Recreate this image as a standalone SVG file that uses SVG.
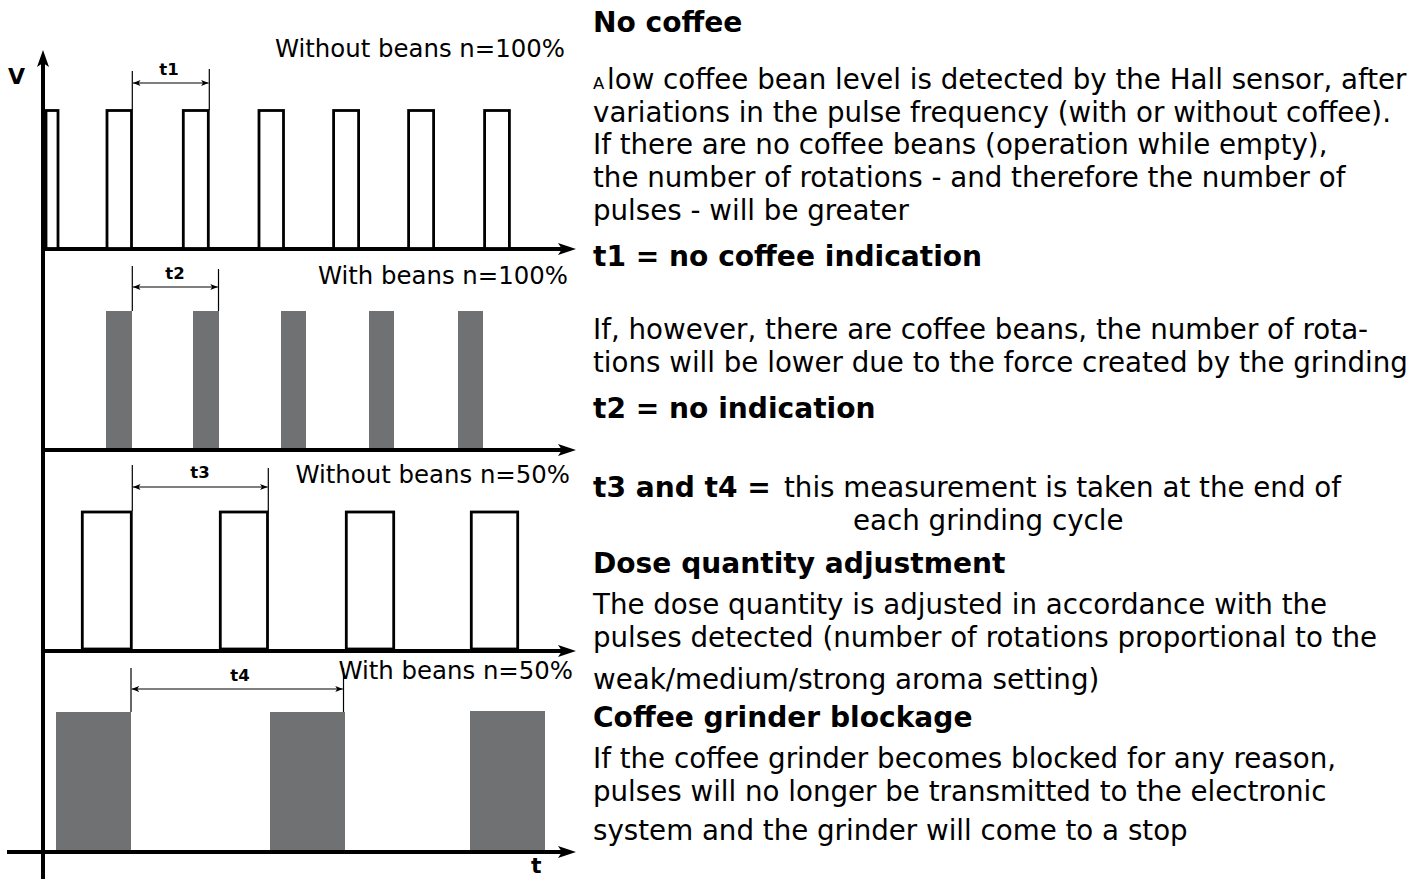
<svg xmlns="http://www.w3.org/2000/svg" width="1418" height="879" viewBox="0 0 1418 879">
<defs>
<style>
.axis{stroke:#000;stroke-width:4;fill:none}
.pulse{fill:#fff;stroke:#000;stroke-width:2.8}
.bar{fill:#707173;stroke:none}
.dim{stroke:#000;stroke-width:1.2;fill:none}
.lbl{font-family:"DejaVu Sans",Verdana,sans-serif;font-size:24.4px;fill:#000}
.tl{font-family:"DejaVu Sans",Verdana,sans-serif;font-size:16.5px;font-weight:bold;fill:#000;text-anchor:middle}
.ax{font-family:"DejaVu Sans",Verdana,sans-serif;font-size:22px;font-weight:bold;fill:#000}
.tx{font-family:"DejaVu Sans",Verdana,sans-serif;font-size:27.7px;fill:#000}
.b{font-weight:bold;font-size:28.1px}
</style>
<marker id="da" viewBox="0 0 10 8" refX="10" refY="4" markerWidth="8" markerHeight="6" markerUnits="userSpaceOnUse" orient="auto-start-reverse">
<path d="M0,0 L10,4 L0,8 L2.5,4 Z" fill="#000"/>
</marker>
</defs>

<g id="connectors">
<line class="axis" x1="43" y1="62" x2="43" y2="879"/>
<polygon points="43,50 49,67 43,63 37,67" fill="#000"/>
<line class="axis" x1="43" y1="249" x2="565" y2="249"/>
<polygon points="576,249 558,243 562,249 558,255" fill="#000"/>
<line class="axis" x1="43" y1="450" x2="565" y2="450"/>
<polygon points="576,450 558,444 562,450 558,456" fill="#000"/>
<line class="axis" x1="43" y1="651" x2="565" y2="651"/>
<polygon points="576,651 558,645 562,651 558,657" fill="#000"/>
<line class="axis" x1="7" y1="852" x2="565" y2="852"/>
<polygon points="576,852 558,846 562,852 558,858" fill="#000"/>
</g>

<g id="axis-labels">
<text class="ax" x="8" y="84">V</text>
<text class="ax" x="531" y="873">t</text>
</g>

<g id="panel1">
<rect class="pulse" x="46" y="110.5" width="12" height="138"/>
<rect class="pulse" x="107" y="110.5" width="24.5" height="138"/>
<rect class="pulse" x="183.3" y="110.5" width="25" height="138"/>
<rect class="pulse" x="259" y="110.5" width="24.5" height="138"/>
<rect class="pulse" x="333.6" y="110.5" width="25" height="138"/>
<rect class="pulse" x="408.6" y="110.5" width="25" height="138"/>
<rect class="pulse" x="484.6" y="110.5" width="24.8" height="138"/>
<line class="dim" x1="132.3" y1="71" x2="132.3" y2="110"/>
<line class="dim" x1="209.3" y1="69" x2="209.3" y2="110"/>
<line class="dim" x1="133" y1="83" x2="208.6" y2="83" marker-start="url(#da)" marker-end="url(#da)"/>
<text class="tl" x="169" y="75">t1</text>
<text class="lbl" x="565" y="57" text-anchor="end">Without beans n=100%</text>
</g>

<g id="panel2">
<rect class="bar" x="106" y="311" width="26" height="137"/>
<rect class="bar" x="193" y="311" width="26" height="137"/>
<rect class="bar" x="281" y="311" width="25" height="137"/>
<rect class="bar" x="369" y="311" width="25" height="137"/>
<rect class="bar" x="458" y="311" width="25" height="137"/>
<line class="dim" x1="132.3" y1="266" x2="132.3" y2="311"/>
<line class="dim" x1="218.5" y1="269" x2="218.5" y2="311"/>
<line class="dim" x1="133" y1="287" x2="217.8" y2="287" marker-start="url(#da)" marker-end="url(#da)"/>
<text class="tl" x="175" y="279">t2</text>
<text class="lbl" x="568" y="284" text-anchor="end">With beans n=100%</text>
</g>

<g id="panel3">
<rect class="pulse" x="82.3" y="512" width="49" height="137"/>
<rect class="pulse" x="220.3" y="512" width="47.2" height="137"/>
<rect class="pulse" x="346.3" y="512" width="47.4" height="137"/>
<rect class="pulse" x="471.3" y="512" width="46.4" height="137"/>
<line class="dim" x1="132.3" y1="465" x2="132.3" y2="511"/>
<line class="dim" x1="268.3" y1="468" x2="268.3" y2="511"/>
<line class="dim" x1="133" y1="487" x2="267.6" y2="487" marker-start="url(#da)" marker-end="url(#da)"/>
<text class="tl" x="200" y="478">t3</text>
<text class="lbl" x="570" y="483" text-anchor="end">Without beans n=50%</text>
</g>

<g id="panel4">
<rect class="bar" x="56" y="712" width="75" height="138"/>
<rect class="bar" x="270" y="712" width="75" height="138"/>
<rect class="bar" x="470" y="711" width="75" height="139"/>
<line class="dim" x1="131" y1="668" x2="131" y2="712"/>
<line class="dim" x1="343.5" y1="668" x2="343.5" y2="712"/>
<line class="dim" x1="131.7" y1="689" x2="342.8" y2="689" marker-start="url(#da)" marker-end="url(#da)"/>
<text class="tl" x="240" y="681">t4</text>
<text class="lbl" x="573" y="679" text-anchor="end">With beans n=50%</text>
</g>

<g id="description">
<text class="tx b" x="593" y="32">No coffee</text>
<text class="tx" x="593" y="89"><tspan font-size="16.5">A</tspan><tspan x="607">low coffee bean level is detected by the Hall sensor, after</tspan></text>
<text class="tx" x="593" y="122">variations in the pulse frequency (with or without coffee).</text>
<text class="tx" x="593" y="154">If there are no coffee beans (operation while empty),</text>
<text class="tx" x="593" y="187">the number of rotations - and therefore the number of</text>
<text class="tx" x="593" y="220">pulses - will be greater</text>
<text class="tx b" x="593" y="266">t1 = no coffee indication</text>
<text class="tx" x="593" y="339">If, however, there are coffee beans, the number of rota-</text>
<text class="tx" x="593" y="372">tions will be lower due to the force created by the grinding</text>
<text class="tx b" x="593" y="418">t2 = no indication</text>
<text class="tx" x="593" y="497"><tspan font-weight="bold" font-size="28.1">t3 and t4 =</tspan><tspan x="784">this measurement is taken at the end of</tspan></text>
<text class="tx" x="853" y="530">each grinding cycle</text>
<text class="tx b" x="593" y="573">Dose quantity adjustment</text>
<text class="tx" x="593" y="614">The dose quantity is adjusted in accordance with the</text>
<text class="tx" x="593" y="647">pulses detected (number of rotations proportional to the</text>
<text class="tx" x="593" y="689">weak/medium/strong aroma setting)</text>
<text class="tx b" x="593" y="727">Coffee grinder blockage</text>
<text class="tx" x="593" y="768">If the coffee grinder becomes blocked for any reason,</text>
<text class="tx" x="593" y="801">pulses will no longer be transmitted to the electronic</text>
<text class="tx" x="593" y="840">system and the grinder will come to a stop</text>
</g>
</svg>
